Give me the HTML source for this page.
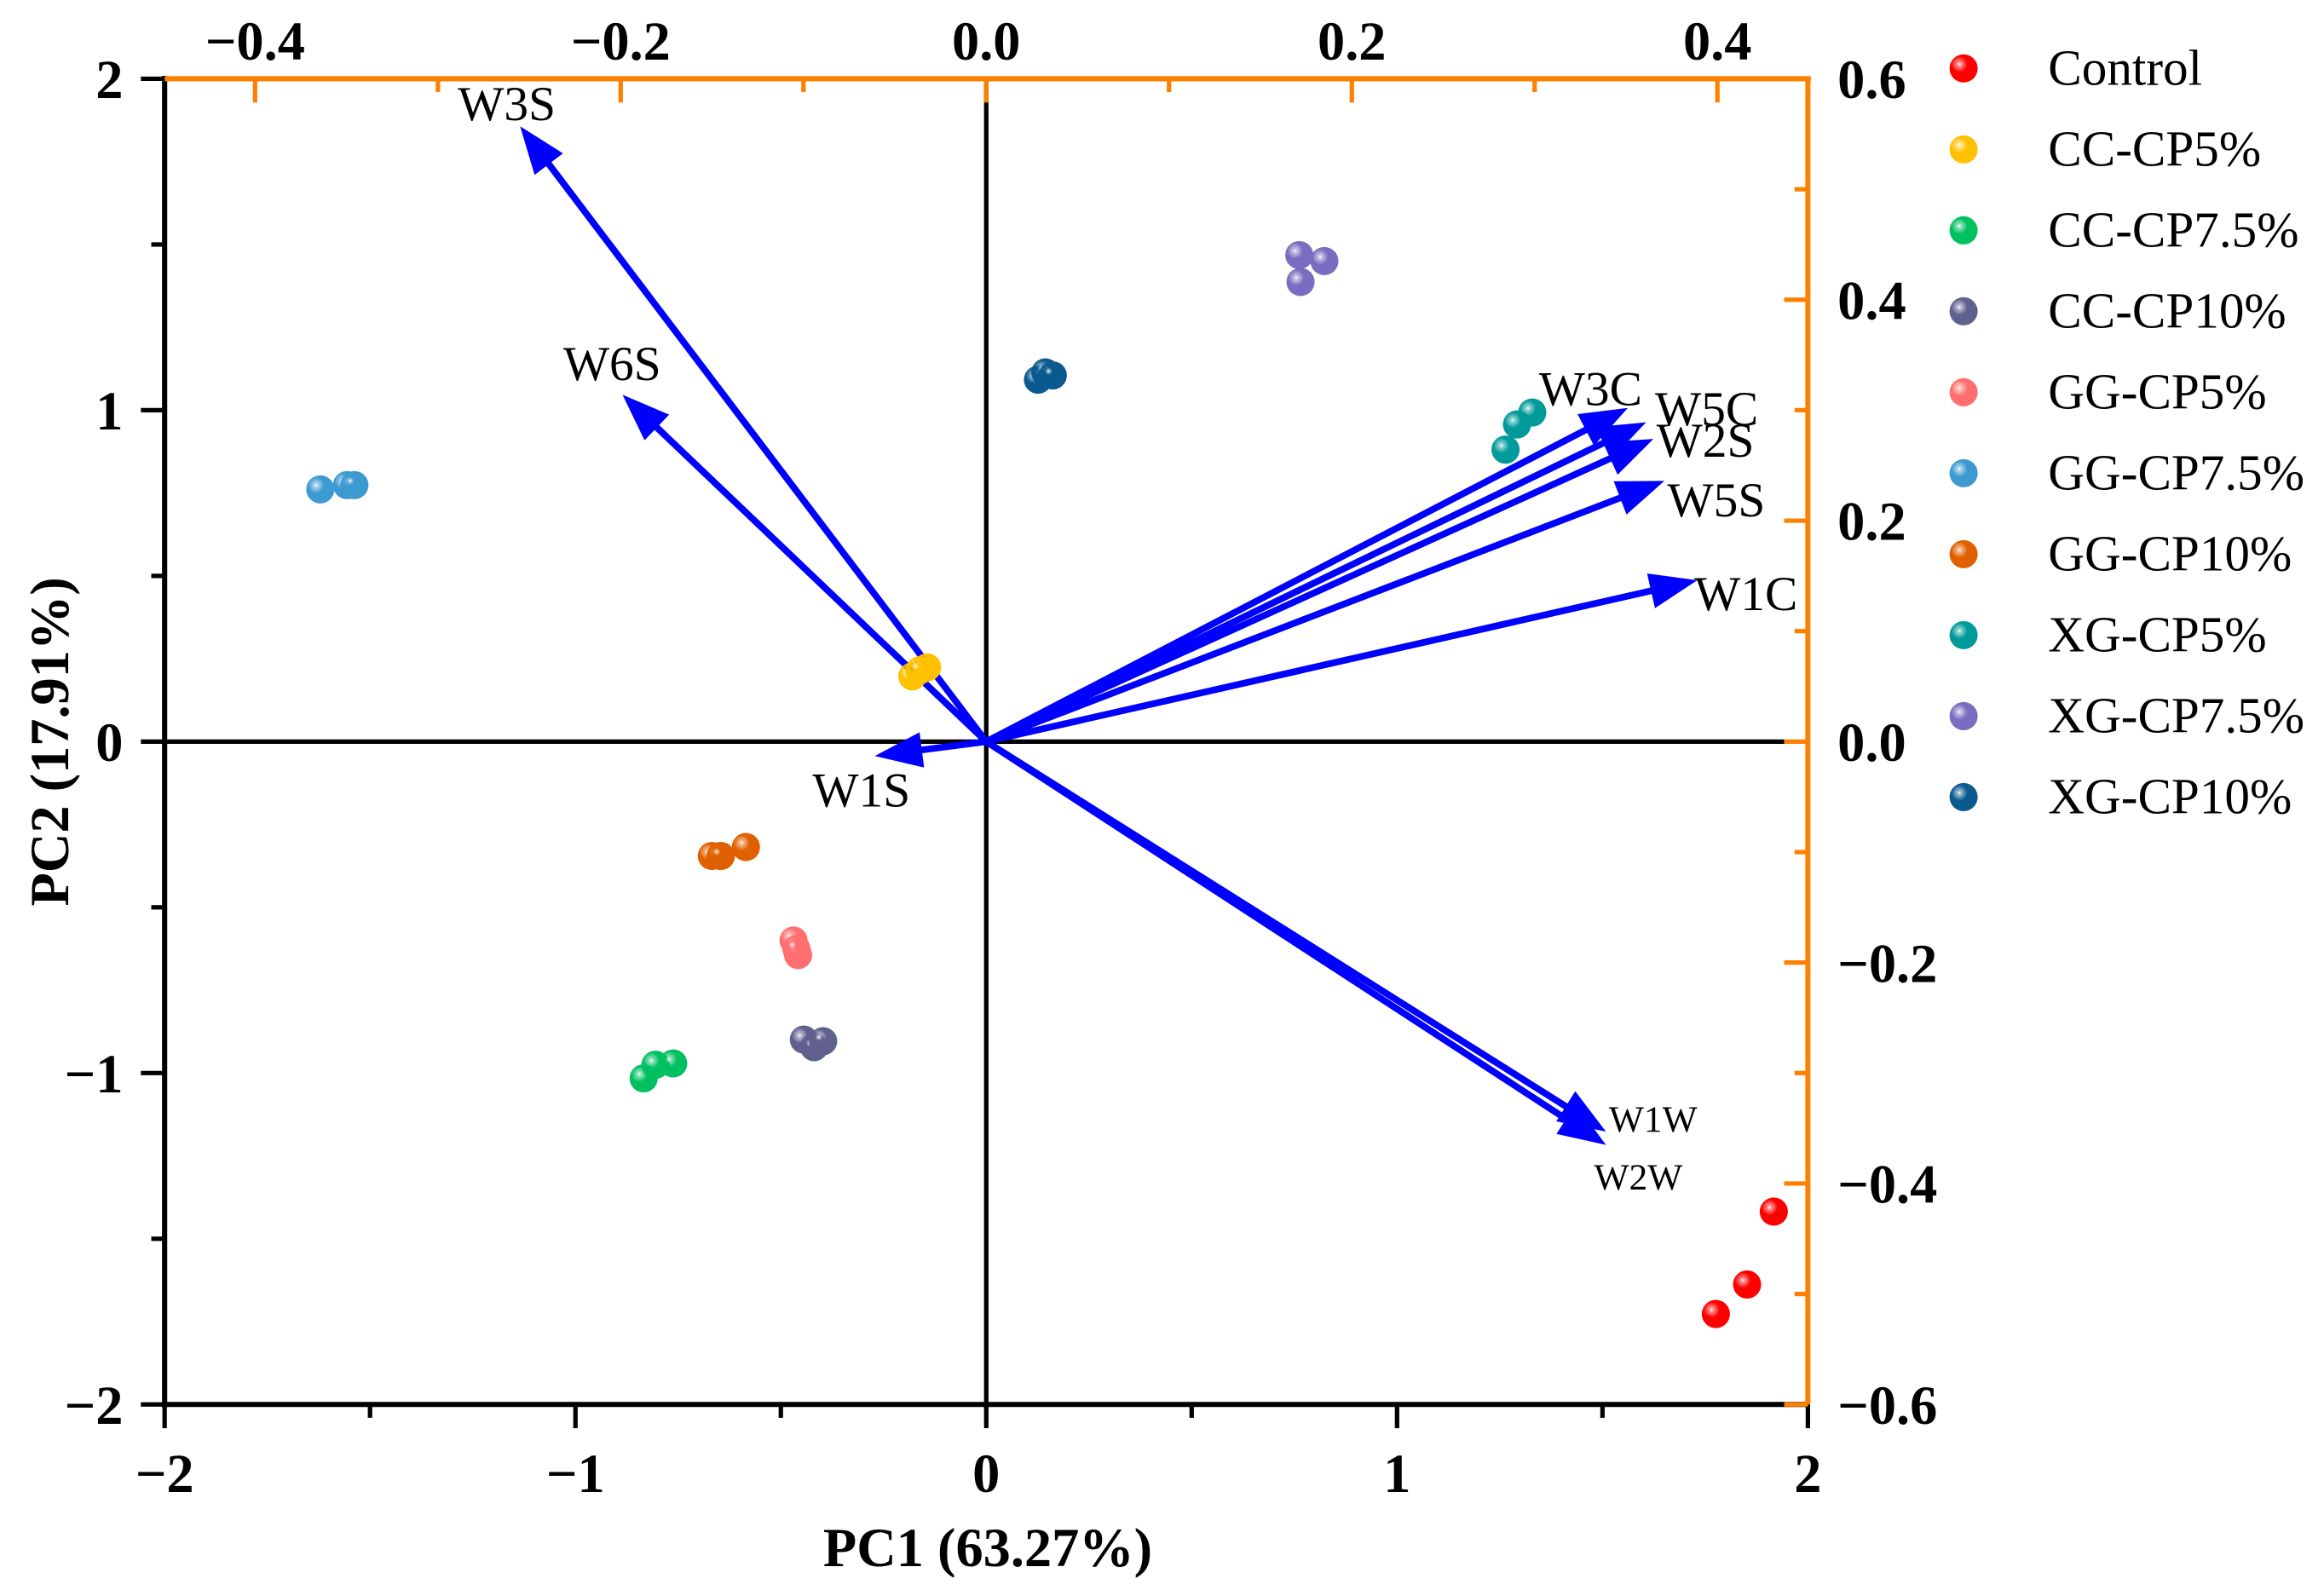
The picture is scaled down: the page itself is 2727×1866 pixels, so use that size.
<!DOCTYPE html>
<html><head><meta charset="utf-8"><style>
html,body{margin:0;padding:0;background:#fff;}
svg{display:block;font-family:"Liberation Serif",serif;}
</style></head><body>
<svg id="chart" width="2727" height="1866" viewBox="0 0 1567 1072" xmlns="http://www.w3.org/2000/svg"></svg>
<script>
const groupNames = ["Control","CC-CP5%","CC-CP7.5%","CC-CP10%","GG-CP5%","GG-CP7.5%","GG-CP10%","XG-CP5%","XG-CP7.5%","XG-CP10%"];
const groupColors = ["#ff0000","#ffc000","#00c060","#60608f","#ff6f6f","#3c9ad0","#e06000","#009a9a","#7a6cc0","#0a5a90"];
const pc1Scores = [[1.917,1.852,1.776],[-0.18,-0.144,-0.162],[-0.834,-0.805,-0.762],[-0.444,-0.419,-0.397],[-0.469,-0.458,-0.462],[-1.621,-1.556,-1.538],[-0.668,-0.646,-0.585],[1.264,1.292,1.329],[0.762,0.823,0.765],[0.126,0.144,0.162]];
const pc2Scores = [[-1.418,-1.638,-1.727],[0.197,0.224,0.215],[-1.016,-0.975,-0.971],[-0.899,-0.922,-0.904],[-0.60,-0.644,-0.626],[0.761,0.774,0.774],[-0.345,-0.345,-0.318],[0.881,0.957,0.993],[1.468,1.45,1.387],[1.092,1.114,1.105]];
const loadingNames = ["W3S","W6S","W1S","W3C","W5C","W2S","W5S","W1C","W1W","W2W"];
const loadingX = [-0.255,-0.199,-0.061,0.351,0.361,0.365,0.371,0.389,0.339,0.339];
const loadingY = [0.557,0.314,-0.013,0.302,0.289,0.274,0.236,0.146,-0.353,-0.365];
const bottomTicks = [-2,-1,0,1,2];
const leftTicks = [-2,-1,0,1,2];
const topTicks = [-0.4,-0.2,0.0,0.2,0.4];
const rightTicks = [-0.6,-0.4,-0.2,0.0,0.2,0.4,0.6];

const L=111,R=1219,T=53,B=947;
const sx=v=>665+v*277, sy=v=>500-v*223.5;
const tx=v=>665+v*1232.5, ty=v=>500-v*745;
const svg=document.getElementById('chart');
const NS="http://www.w3.org/2000/svg";
function mk(tag,attrs,parent){const e=document.createElementNS(NS,tag);for(const k in attrs)e.setAttribute(k,attrs[k]);(parent||svg).appendChild(e);return e;}
const defs=mk('defs',{});
groupColors.forEach((c,i)=>{const g=mk('radialGradient',{id:'g'+i,cx:'0.35',cy:'0.35',r:'0.7'},defs);
mk('stop',{offset:'0','stop-color':'#fff'},g);mk('stop',{offset:'0.2','stop-color':c,'stop-opacity':'0.6'},g);mk('stop',{offset:'0.4','stop-color':c},g);mk('stop',{offset:'1','stop-color':c},g);});
const fmt=v=>(v<0?"\u2212":"")+Math.abs(v);
const fmt1=v=>(v<0?"\u2212":"")+Math.abs(v).toFixed(1);

let e;
e=mk('line',{x1:L,x2:1203,y1:sy(0),y2:sy(0),stroke:'#000','stroke-width':3});


e=mk('line',{x1:sx(0),x2:sx(0),y1:T,y2:B,stroke:'#000','stroke-width':3});



e=mk('line',{x1:L,x2:L,y1:T-2,y2:B+2,stroke:'#000','stroke-width':3.5});


e=mk('line',{x1:L,x2:R,y1:B,y2:B,stroke:'#000','stroke-width':3.5});


e=mk('line',{x1:L,x2:R+2,y1:T,y2:T,stroke:'#ff8000','stroke-width':3.5});


e=mk('line',{x1:R,x2:R,y1:T,y2:B,stroke:'#ff8000','stroke-width':3.5});



for(let v=-2;v<=2.001;v+=0.5){const maj=Math.abs(v-Math.round(v))<1e-6;
e=mk('line',{x1:sx(v),x2:sx(v),y1:B,y2:B+(maj?16:9),stroke:'#000','stroke-width':3});

}
bottomTicks.forEach(v=>{e=mk('text',{x:sx(v),y:B+59,'text-anchor':'middle','font-size':37,'font-weight':'bold'});e.textContent=fmt(v);

});
for(let v=-2;v<=2.001;v+=0.5){const maj=Math.abs(v-Math.round(v))<1e-6;
e=mk('line',{x1:L-(maj?16:9),x2:L,y1:sy(v),y2:sy(v),stroke:'#000','stroke-width':3});

}
leftTicks.forEach(v=>{e=mk('text',{x:L-28,y:sy(v)+13,'text-anchor':'end','font-size':37,'font-weight':'bold'});e.textContent=fmt(v);

});
for(let v=-0.4;v<=0.4001;v+=0.1){const maj=Math.abs(v*5-Math.round(v*5))<1e-6;
e=mk('line',{x1:tx(v),x2:tx(v),y1:T,y2:T+(maj?16:9),stroke:'#ff8000','stroke-width':3});

}
topTicks.forEach(v=>{e=mk('text',{x:tx(v),y:T-13,'text-anchor':'middle','font-size':37,'font-weight':'bold'});e.textContent=fmt1(v);

});
for(let v=-0.6;v<=0.6001;v+=0.1){const maj=Math.abs(v*5-Math.round(v*5))<1e-6;
e=mk('line',{x1:R-(maj?16:9),x2:R,y1:ty(v),y2:ty(v),stroke:'#ff8000','stroke-width':3});

}
rightTicks.forEach(v=>{e=mk('text',{x:R+20,y:ty(v)+13,'font-size':37,'font-weight':'bold'});e.textContent=fmt1(v);

});

e=mk('text',{x:666,y:1056,'text-anchor':'middle','font-size':37,'font-weight':'bold'});e.textContent="PC1 (63.27%)";


e=mk('text',{x:0,y:0,transform:'translate(46,500) rotate(-90)','text-anchor':'middle','font-size':37,'font-weight':'bold'});e.textContent="PC2 (17.91%)";



const labelOff=[[-42,-4],[-40,-10],[-42,34],[-60,-2],[6,2],[2,12],[2,24],[-2,20],[2,0],[-8,30]];
loadingNames.forEach((n,i)=>{
 const x2=tx(loadingX[i]),y2=ty(loadingY[i]),x0=tx(0),y0=ty(0);
 const dx=x2-x0,dy=y2-y0,len=Math.hypot(dx,dy),ux=dx/len,uy=dy/len;
 const hl=32,hw=12,bx=x2-ux*hl,by=y2-uy*hl;
 const g=mk('g',{});
 
 
 mk('line',{x1:x0,y1:y0,x2:bx+ux*4,y2:by+uy*4,stroke:'#0000ff','stroke-width':4.5},g);
 mk('polygon',{points:`${x2},${y2} ${bx-uy*hw},${by+ux*hw} ${bx+uy*hw},${by-ux*hw}`,fill:'#0000ff'},g);
 const fs=(n==="W1W"||n==="W2W")?25:33;
 const t=mk('text',{x:x2+labelOff[i][0],y:y2+labelOff[i][1],'font-size':fs},g);t.textContent=n;
});

groupNames.forEach((n,i)=>{
 const g=mk('g',{});
 
 
 pc1Scores[i].forEach((x,j)=>{
  const c=mk('circle',{cx:sx(x),cy:sy(pc2Scores[i][j]),r:9.5,fill:`url(#g${i})`},g);
  
  
 });
});

groupNames.forEach((n,i)=>{
 const y=46+i*54.6;
 const g=mk('g',{});
 
 
 mk('circle',{cx:1324,cy:y,r:9.5,fill:`url(#g${i})`},g);
 const t=mk('text',{x:1381,y:y+11,'font-size':34},g);t.textContent=n;
});
</script>
</body></html>
